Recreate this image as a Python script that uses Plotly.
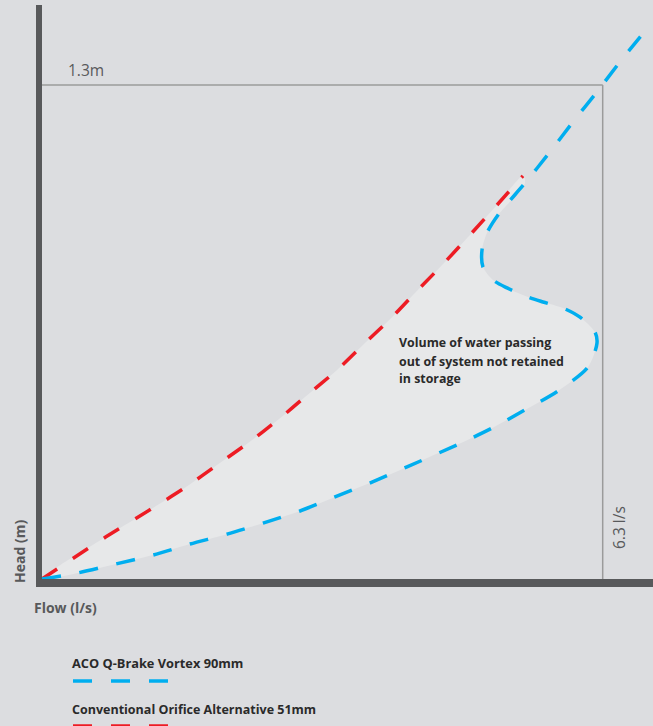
import plotly.graph_objects as go

# ---- data (flow l/s, head m) ----
orifice_flow = [0.0, 0.719, 1.247, 1.618, 1.966, 2.315, 2.663, 2.955, 3.315, 3.629,
                3.933, 4.225, 4.528, 4.831, 5.112, 5.404]
orifice_head = [0.0, 0.111, 0.187, 0.242, 0.300, 0.358, 0.421, 0.479, 0.550, 0.621,
                0.689, 0.761, 0.834, 0.911, 0.984, 1.061]

vortex_flow = [0.0, 0.404, 0.820, 1.247, 1.663, 2.079, 2.483, 2.899, 3.292, 3.708,
               4.101, 4.663, 5.056, 5.427, 5.798, 6.135, 6.236, 6.213, 6.045, 5.854,
               5.629, 5.461, 5.225, 5.067, 4.955, 4.944, 5.000, 5.124, 5.427, 5.708,
               5.966, 6.236, 6.494, 6.764]
vortex_head = [0.0, 0.016, 0.039, 0.063, 0.092, 0.118, 0.147, 0.179, 0.216, 0.255,
               0.295, 0.353, 0.397, 0.445, 0.495, 0.558, 0.621, 0.650, 0.689, 0.713,
               0.729, 0.742, 0.766, 0.787, 0.821, 0.866, 0.911, 0.958, 1.042, 1.124,
               1.203, 1.282, 1.361, 1.439]

max_flow = 6.3
max_head = 1.3
series_names = ["ACO Q-Brake Vortex 90mm", "Conventional Orifice Alternative 51mm"]
area_label_lines = ["Volume of water passing", "out of system not retained", "in storage"]

BLUE = "#00aeef"
RED = "#ed1c24"
BG = "#dcdde0"
FILL = "#e7e8e9"
AXIS = "#58595b"
DARK = "#2a2a2a"
W, H = 653, 726

def px(x):
    return x / W

def py(y):
    return 1 - y / H

# index where vortex curve meets orifice curve at top
k = vortex_flow.index(5.427, 20)
fill_x = orifice_flow + vortex_flow[:k + 1][::-1]
fill_y = orifice_head + vortex_head[:k + 1][::-1]

fig = go.Figure()
fig.add_trace(go.Scatter(x=fill_x, y=fill_y, fill="toself", fillcolor=FILL,
                         mode="lines", line=dict(width=0, shape="spline", smoothing=0.8),
                         hoverinfo="skip", showlegend=False))
fig.add_trace(go.Scatter(x=orifice_flow, y=orifice_head, mode="lines",
                         line=dict(color=RED, width=3.5, dash="18px,19px",
                                   shape="spline", smoothing=0.8),
                         name=series_names[1], showlegend=False))
fig.add_trace(go.Scatter(x=vortex_flow, y=vortex_head, mode="lines",
                         line=dict(color=BLUE, width=3.5, dash="19px,19px",
                                   shape="spline", smoothing=0.8),
                         name=series_names[0], showlegend=False))

x0p, y0p, kx, ky = 42, 579, 89.0, 380.0
fig.update_xaxes(range=[-x0p / kx, (W - x0p) / kx], visible=False, fixedrange=True)
fig.update_yaxes(range=[(y0p - H) / ky, y0p / ky], visible=False, fixedrange=True)

shapes = []
# thin box lines
shapes.append(dict(type="line", xref="x", yref="y", x0=0, x1=max_flow, y0=max_head, y1=max_head,
                   line=dict(color="#9b9b9b", width=1.5), layer="below"))
shapes.append(dict(type="line", xref="x", yref="y", x0=max_flow, x1=max_flow, y0=0, y1=max_head,
                   line=dict(color="#9b9b9b", width=1.5), layer="below"))
# thick axes
shapes.append(dict(type="rect", xref="paper", yref="paper", x0=px(36), x1=px(42), y0=py(587), y1=py(5),
                   fillcolor=AXIS, line=dict(width=0)))
shapes.append(dict(type="rect", xref="paper", yref="paper", x0=px(36), x1=px(653), y0=py(587), y1=py(579),
                   fillcolor=AXIS, line=dict(width=0)))
# legend dashes
shapes.append(dict(type="line", xref="paper", yref="paper", x0=px(73), x1=px(168), y0=py(681), y1=py(681),
                   line=dict(color=BLUE, width=3.5, dash="19px,19px")))
shapes.append(dict(type="line", xref="paper", yref="paper", x0=px(73), x1=px(168), y0=py(726), y1=py(726),
                   line=dict(color=RED, width=3.5, dash="19px,19px")))

FONT = "Open Sans"
ann = []
ann.append(dict(text="1.3m", x=px(66), y=py(70), xanchor="left", yanchor="middle",
                font=dict(family=FONT, size=15.5, color=AXIS)))
ann.append(dict(text="6.3 l/s", x=px(619), y=py(528), xanchor="center", yanchor="middle", textangle=-90,
                font=dict(family=FONT, size=15.5, color=AXIS)))
ann.append(dict(text="Head (m)", x=px(19), y=py(552), xanchor="center", yanchor="middle", textangle=-90,
                font=dict(family=FONT, size=14, color=AXIS, weight=700)))
ann.append(dict(text="Flow (l/s)", x=px(32), y=py(607), xanchor="left", yanchor="middle",
                font=dict(family=FONT, size=14, color=AXIS, weight=700)))
for line_text, yy in zip(area_label_lines, [343, 361, 378]):
    ann.append(dict(text=line_text, x=px(397), y=py(yy), xanchor="left", yanchor="middle", align="left",
                    font=dict(family=FONT, size=12.4, color=DARK, weight=700)))
ann.append(dict(text=series_names[0], x=px(70), y=py(663), xanchor="left", yanchor="middle",
                font=dict(family=FONT, size=12.8, color=DARK, weight=700)))
ann.append(dict(text=series_names[1], x=px(70), y=py(709), xanchor="left", yanchor="middle",
                font=dict(family=FONT, size=12.5, color=DARK, weight=700)))
for a in ann:
    a.update(xref="paper", yref="paper", showarrow=False)

fig.update_layout(width=W, height=H, margin=dict(l=0, r=0, t=0, b=0),
                  paper_bgcolor=BG, plot_bgcolor=BG, shapes=shapes, annotations=ann,
                  showlegend=False)
fig.write_html("out.html", config={"displayModeBar": False},
               post_script="document.body.style.margin='0';document.body.style.background='#dcdde0';document.body.style.overflow='hidden';")
